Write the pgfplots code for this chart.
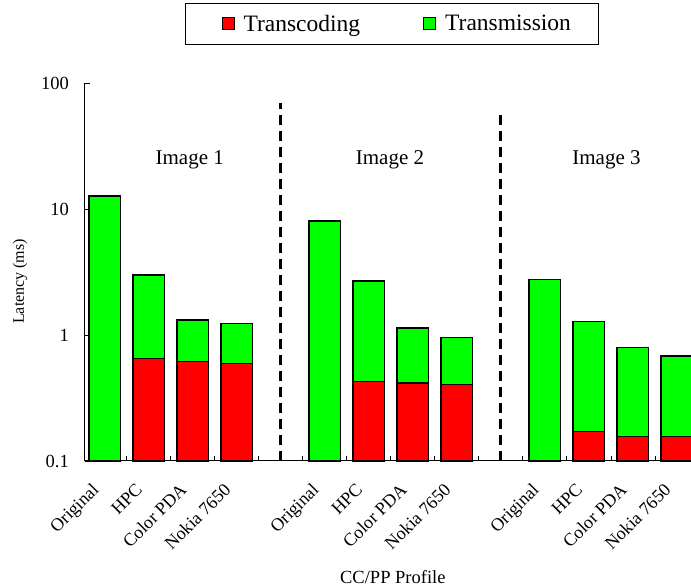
\documentclass[border=0pt]{standalone}
\usepackage{fontspec}
\setmainfont{Liberation Serif}
\usepackage{pgfplots}
\usepackage{pgfplotstable}
\pgfplotsset{compat=1.18}
\usetikzlibrary{calc}

\definecolor{tcred}{RGB}{255,0,0}
\definecolor{tmgreen}{RGB}{0,255,0}

% total latency per profile (ms): transcoding + transmission
\pgfplotstableread{
x   total
0   12.7
1   2.99
2   1.32
3   1.24
5   8.03
6   2.68
7   1.14
8   0.952
10  2.75
11  1.28
12  0.793
13  0.681
}\totals

% transcoding part (ms); the original images are not transcoded
\pgfplotstableread{
x   trc
1   0.653
2   0.614
3   0.596
6   0.426
7   0.416
8   0.403
11  0.172
12  0.157
13  0.157
}\transcoding

\pgfplotsset{
  sqlegend/.style={legend image code/.code={
    \draw[##1, line width=1pt] (0pt,-6pt) rectangle (12pt,6pt);}},
  sqlegendfirst/.style={legend image code/.code={
    \path (-11pt,0pt);
    \draw[##1, line width=1pt] (0pt,-6pt) rectangle (12pt,6pt);}},
}

\begin{document}
\begin{tikzpicture}
\begin{axis}[
  name=ax,
  scale only axis,
  width=606pt, height=378pt,
  clip=false,
  % decade scale with the bars standing on 0.1
  y coord trafo/.code={\pgfmathparse{ln(#1)/ln(10)+1}},
  y coord inv trafo/.code={\pgfmathparse{exp((#1-1)*ln(10))}},
  ymin=0.1, ymax=100,
  xmin=-0.45, xmax=13.32,
  ybar, bar width=0.72, bar shift=0pt,
  axis x line*=bottom, axis y line*=left,
  axis line style={line width=1pt},
  tick align=inside,
  major tick length=5pt,
  tick style={black, line width=0.8pt},
  ytick={0.1,1,10,100},
  yticklabels={0.1,1,10,100},
  yminorticks=false,
  yticklabel style={font=\fontsize{18.5}{20}\selectfont, inner sep=0pt, xshift=-16pt},
  xtick={0.5,1.5,2.5,3.5,4.5,5.5,6.5,7.5,8.5,9.5,10.5,11.5,12.5},
  xticklabels={},
  xminorticks=false,
  extra x ticks={0,1,2,3,5,6,7,8,10,11,12,13},
  extra x tick labels={Original,HPC,Color PDA,Nokia 7650,Original,HPC,Color PDA,Nokia 7650,Original,HPC,Color PDA,Nokia 7650},
  extra x tick style={major tick length=0pt},
  xticklabel style={xshift=-14pt, yshift=-18pt, rotate=45, anchor=north east,
    font=\fontsize{18}{20}\selectfont, inner sep=2pt},
  ylabel={Latency (ms)},
  ylabel style={at={(axis description cs:-0.107,0.475)}, anchor=center, rotate=0, font=\fontsize{16}{18}\selectfont},
  xlabel={CC/PP Profile},
  xlabel style={at={(axis description cs:0.508,-0.307)}, anchor=center, font=\fontsize{18.5}{20}\selectfont},
  legend columns=2,
  legend style={at={(0.506,1.212)}, anchor=north, draw=black, line width=0.8pt,
    font=\fontsize{23.5}{27}\selectfont, inner xsep=25pt, inner ysep=9.5pt,
    /tikz/every even column/.append style={column sep=61pt},
    /tikz/every odd column/.append style={column sep=7pt}},
]
% total latency: transmission sits on top of transcoding
\addplot[fill=tmgreen, draw=black, line width=1.4pt, forget plot]
  table[x=x, y=total] {\totals};
% transcoding share
\addplot[fill=tcred, draw=black, line width=1.4pt, sqlegendfirst]
  table[x=x, y=trc] {\transcoding};
\addlegendentry{Transcoding}
\addlegendimage{sqlegend, fill=tmgreen, draw=black}
\addlegendentry{Transmission}

% group separators
\addplot[sharp plot, no marks, forget plot, black, line width=2.8pt, dash pattern=on 10pt off 6pt] coordinates {(4,0.1) (4,69)};
\addplot[sharp plot, no marks, forget plot, black, line width=2.8pt, dash pattern=on 10pt off 6pt] coordinates {(9,0.1) (9,61)};

\node[font=\fontsize{21}{24}\selectfont] at (axis cs:1.93,24.5) {Image 1};
\node[font=\fontsize{21}{24}\selectfont] at (axis cs:6.48,24.5) {Image 2};
\node[font=\fontsize{21}{24}\selectfont] at (axis cs:11.4,24.5) {Image 3};
\end{axis}
\pgfresetboundingbox
\path[use as bounding box] ($(ax.south west)+(-85pt,-127pt)$) rectangle ($(ax.north east)+(0pt,83pt)$);
\end{tikzpicture}
\end{document}
